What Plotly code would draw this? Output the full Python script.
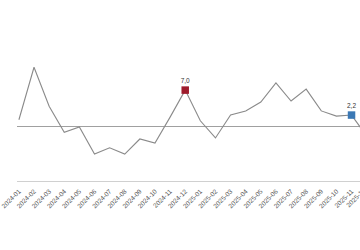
import plotly.graph_objects as go

months = ["2024-01","2024-02","2024-03","2024-04","2024-05","2024-06","2024-07","2024-08",
          "2024-09","2024-10","2024-11","2024-12","2025-01","2025-02","2025-03","2025-04",
          "2025-05","2025-06","2025-07","2025-08","2025-09","2025-10","2025-11","2025-12"]
values = [1.3, 11.4, 3.9, -1.1, -0.1, -5.3, -4.1, -5.3, -2.4, -3.2, 1.8, 7.0,
          1.1, -2.2, 2.2, 3.0, 4.7, 8.4, 4.9, 7.2, 3.0, 2.0, 2.2, -1.8]
highlight_idx = [11, 22]
highlight_colors = ["#9e1b2c", "#3b78b4"]
highlight_text = ["7,0", "2,2"]

xs = list(range(len(months)))
x_range = [-0.126, 22.56]

fig = go.Figure()
fig.add_trace(go.Scatter(x=xs, y=values, mode="lines",
                         line=dict(color="#8a8a8a", width=1.1), hoverinfo="skip"))
for i, c, t in zip(highlight_idx, highlight_colors, highlight_text):
    fig.add_trace(go.Scatter(x=[xs[i]], y=[values[i]], mode="markers+text",
                             marker=dict(symbol="square", size=7.5, color=c),
                             text=[t], textposition="top center",
                             textfont=dict(size=6.5, color="#333", family="Arial")))

# last category label sits just past the visible x range: place it in paper units
last_paper_x = (xs[-1] - x_range[0]) / (x_range[1] - x_range[0])
fig.add_annotation(x=last_paper_x, y=0, xref="paper", yref="paper", text=months[-1],
                   showarrow=False, textangle=-45, xanchor="right", yanchor="top",
                   xshift=3, yshift=-3,
                   font=dict(size=6.5, color="#555", family="Arial"))

fig.update_layout(
    width=360, height=250, margin=dict(l=0, r=0, t=0, b=69),
    paper_bgcolor="white", plot_bgcolor="white", showlegend=False,
    xaxis=dict(range=x_range, tickmode="array", tickvals=xs, ticktext=months,
               tickangle=-45, tickfont=dict(size=6.5, color="#555", family="Arial"),
               ticklabeloverflow="allow", ticklabelstandoff=3,
               showgrid=False, zeroline=False, showline=True, linecolor="#d0d0d0",
               linewidth=1, ticks=""),
    yaxis=dict(range=[-10.48, 24.33], showticklabels=False, showgrid=False,
               zeroline=True, zerolinecolor="#a0a0a0", zerolinewidth=1),
)
fig.write_html("out.html")
